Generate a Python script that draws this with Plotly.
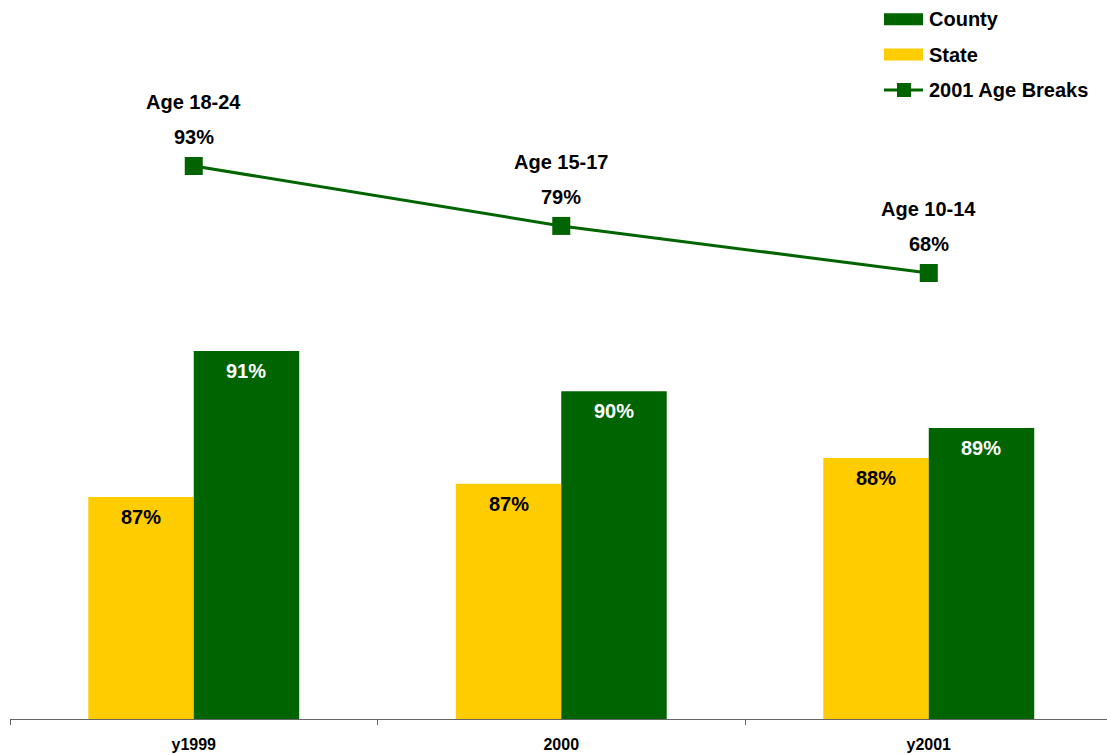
import plotly.graph_objects as go

categories = ["y1999", "2000", "y2001"]
state_values = [86.64, 87.03, 87.8]
county_values = [91.0, 89.8, 88.7]
age_values = [93, 79, 68]
age_labels = ["Age 18-24", "Age 15-17", "Age 10-14"]

GREEN = "#006400"
YELLOW = "#FFCC00"
FONT = "Arial, Liberation Sans, sans-serif"

W, H = 1107, 755
L, R, T, B = 10, 0, 50, 36
PW, PH = W - L - R, H - T - B
BARGAP = 0.426
band_px = PW / 2.985
bar_px = band_px * (1 - BARGAP) / 2

fig = go.Figure()
fig.add_trace(go.Bar(name="State", x=categories, y=state_values,
                     marker=dict(color=YELLOW, line=dict(width=0)),
                     showlegend=False))
fig.add_trace(go.Bar(name="County", x=categories, y=county_values,
                     marker=dict(color=GREEN, line=dict(width=0)),
                     showlegend=False))
fig.add_trace(go.Scatter(name="2001 Age Breaks", x=categories, y=age_values,
                         yaxis="y2", mode="lines+markers",
                         line=dict(color=GREEN, width=3),
                         marker=dict(symbol="square", size=18, color=GREEN),
                         showlegend=False))

annotations = []
for i, v in enumerate(state_values):
    annotations.append(dict(x=i, y=v, xref="x", yref="y", text=f"{round(v)}%",
                            showarrow=False, xshift=-bar_px / 2, yshift=-20,
                            yanchor="middle",
                            font=dict(family=FONT, size=20, color="black", weight="bold")))
for i, v in enumerate(county_values):
    annotations.append(dict(x=i, y=v, xref="x", yref="y", text=f"{round(v)}%",
                            showarrow=False, xshift=bar_px / 2, yshift=-20,
                            yanchor="middle",
                            font=dict(family=FONT, size=20, color="white", weight="bold")))
for i, (v, lab) in enumerate(zip(age_values, age_labels)):
    annotations.append(dict(x=i, y=v, xref="x", yref="y2", text=f"{v}%",
                            showarrow=False, yshift=29, yanchor="middle",
                            font=dict(family=FONT, size=20, color="black", weight="bold")))
    annotations.append(dict(x=i, y=v, xref="x", yref="y2", text=lab,
                            showarrow=False, yshift=64, yanchor="middle",
                            font=dict(family=FONT, size=20, color="black", weight="bold")))


def px_x(p):
    return (p - L) / PW


def px_y(p):
    return (H - B - p) / PH


# custom legend
shapes = []
legend_items = [("County", 19.3, "rect", GREEN),
                ("State", 54.5, "rect", YELLOW),
                ("2001 Age Breaks", 90, "line", GREEN)]
for name, cy, kind, col in legend_items:
    if kind == "rect":
        shapes.append(dict(type="rect", xref="paper", yref="paper",
                           x0=px_x(884), x1=px_x(923), y0=px_y(cy + 6), y1=px_y(cy - 6),
                           fillcolor=col, line=dict(width=0)))
    else:
        shapes.append(dict(type="line", xref="paper", yref="paper",
                           x0=px_x(884), x1=px_x(923), y0=px_y(cy), y1=px_y(cy),
                           line=dict(color=col, width=3)))
        shapes.append(dict(type="rect", xref="paper", yref="paper",
                           x0=px_x(897), x1=px_x(911), y0=px_y(cy + 7), y1=px_y(cy - 7),
                           fillcolor=col, line=dict(width=0)))
    annotations.append(dict(x=px_x(927), y=px_y(cy), xref="paper", yref="paper",
                            text=name, showarrow=False, xanchor="left", yanchor="middle",
                            font=dict(family=FONT, size=20, color="black", weight="bold")))

fig.update_layout(
    width=W, height=H,
    margin=dict(l=L, r=R, t=T, b=B, pad=0),
    paper_bgcolor="white", plot_bgcolor="white",
    barmode="group", bargap=BARGAP, bargroupgap=0,
    showlegend=False,
    xaxis=dict(type="category", range=[-0.5, 2.485], showgrid=False,
               showline=True, linecolor="#666666", linewidth=1,
               ticks="outside", tickson="boundaries", ticklen=5,
               tickcolor="#666666", tickwidth=1, ticklabelstandoff=11,
               tickfont=dict(family=FONT, size=16, color="black", weight="bold"),
               zeroline=False, fixedrange=True),
    yaxis=dict(range=[80, 100], visible=False, showgrid=False, zeroline=False),
    yaxis2=dict(range=[-36.2, 120.1], overlaying="y", visible=False,
                showgrid=False, zeroline=False),
    annotations=annotations,
    shapes=shapes,
)

fig.write_html("out.html", config={"displayModeBar": False},
               post_script="document.body.style.margin='0';document.body.style.overflow='hidden';")
